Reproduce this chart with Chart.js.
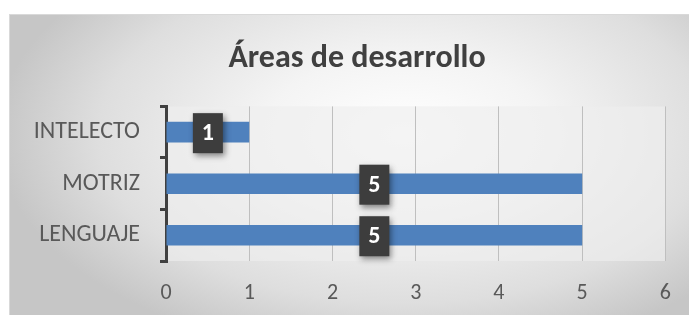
<!DOCTYPE html>
<html>
<head>
<meta charset="utf-8">
<script src="https://cdn.jsdelivr.net/npm/chart.js@4/dist/chart.umd.min.js"></script>
<style>
  html, body { margin: 0; padding: 0; background: #fff; }
  body { width: 689px; height: 315px; position: relative; overflow: hidden; }
  .frame {
    position: absolute; left: 9px; top: 14px; width: 680px; height: 301px;
    box-sizing: border-box; border: 1px solid #d9d9d9; border-right: none; border-bottom: none;
    background: radial-gradient(ellipse 60% 75% at 58% 40%, #ffffff 0%, #f4f4f4 35%, #dedede 75%, #c6c6c6 100%);
  }
  .frame canvas { position: absolute; left: 0; top: 0; }
</style>
</head>
<body>
<div class="frame">
  <canvas id="areasChart" width="680" height="301"></canvas>
</div>
<script>
// datos
const categorias = ['INTELECTO', 'MOTRIZ', 'LENGUAJE'];
const valores = [1, 5, 5];
const ticksX = [0, 1, 2, 3, 4, 5, 6];

const fuente = "Carlito, Lato, 'Open Sans', sans-serif";

// fondo del area de trazado + titulo algo desplazado a la derecha como en el original
const fondoPlot = {
    id: 'fondoPlot',
    afterLayout(chart) {
        if (chart.titleBlock) chart.titleBlock.left += 38;
    },
    beforeDraw(chart) {
        const { ctx, chartArea } = chart;
        ctx.save();
        ctx.fillStyle = 'rgba(238,238,238,0.65)';
        ctx.fillRect(chartArea.left, chartArea.top, chartArea.right - chartArea.left, chartArea.bottom - chartArea.top);
        ctx.restore();
    }
};

// etiquetas de datos (caja oscura con numero blanco)
const etiquetas = {
    id: 'etiquetas',
    afterDatasetsDraw(chart) {
        const { ctx } = chart;
        const meta = chart.getDatasetMeta(0);
        meta.data.forEach((bar, i) => {
            const cx = (bar.x + bar.base) / 2;
            const cy = bar.y;
            const w = 30, h = 40;
            ctx.save();
            ctx.shadowColor = 'rgba(0,0,0,0.45)';
            ctx.shadowBlur = 6;
            ctx.shadowOffsetX = 2;
            ctx.shadowOffsetY = 3;
            ctx.fillStyle = '#3d3d3d';
            ctx.fillRect(cx - w / 2, cy - h / 2 + 1, w, h);
            ctx.restore();
            ctx.save();
            ctx.fillStyle = '#ffffff';
            ctx.font = 'bold 24px ' + fuente;
            ctx.textAlign = 'center';
            ctx.textBaseline = 'middle';
            ctx.fillText(String(chart.data.datasets[0].data[i]), cx, cy + 2);
            ctx.restore();
        });
    }
};

new Chart(document.getElementById('areasChart').getContext('2d'), {
    type: 'bar',
    data: {
        labels: categorias,
        datasets: [{
            data: valores,
            backgroundColor: '#4f81bd',
            borderWidth: 0,
            categoryPercentage: 1,
            barPercentage: 0.4
        }]
    },
    options: {
        indexAxis: 'y',
        responsive: false,
        animation: false,
        layout: { padding: { left: 0, right: 24, top: 0, bottom: 0 } },
        plugins: {
            legend: { display: false },
            tooltip: { enabled: false },
            title: {
                display: true,
                text: 'Áreas de desarrollo',
                color: '#404040',
                font: { family: fuente, size: 32, weight: 'bold' },
                padding: { top: 25, bottom: 28 }
            }
        },
        scales: {
            x: {
                min: 0,
                max: 6,
                afterBuildTicks(scale) { scale.ticks = ticksX.map(v => ({ value: v })); },
                afterFit(scale) { scale.height = 55; },
                grid: { color: '#bfbfbf', lineWidth: 1, drawTicks: false },
                border: { display: false },
                ticks: { color: '#595959', font: { family: fuente, size: 22 }, padding: 19 }
            },
            y: {
                afterFit(scale) { scale.width = 156; },
                grid: { drawOnChartArea: false, color: '#404040', lineWidth: 3, tickLength: 6, offset: true },
                border: { display: true, color: '#404040', width: 3 },
                ticks: { color: '#595959', font: { family: fuente, size: 24 }, padding: 20 }
            }
        }
    },
    plugins: [fondoPlot, etiquetas]
});
</script>
</body>
</html>
